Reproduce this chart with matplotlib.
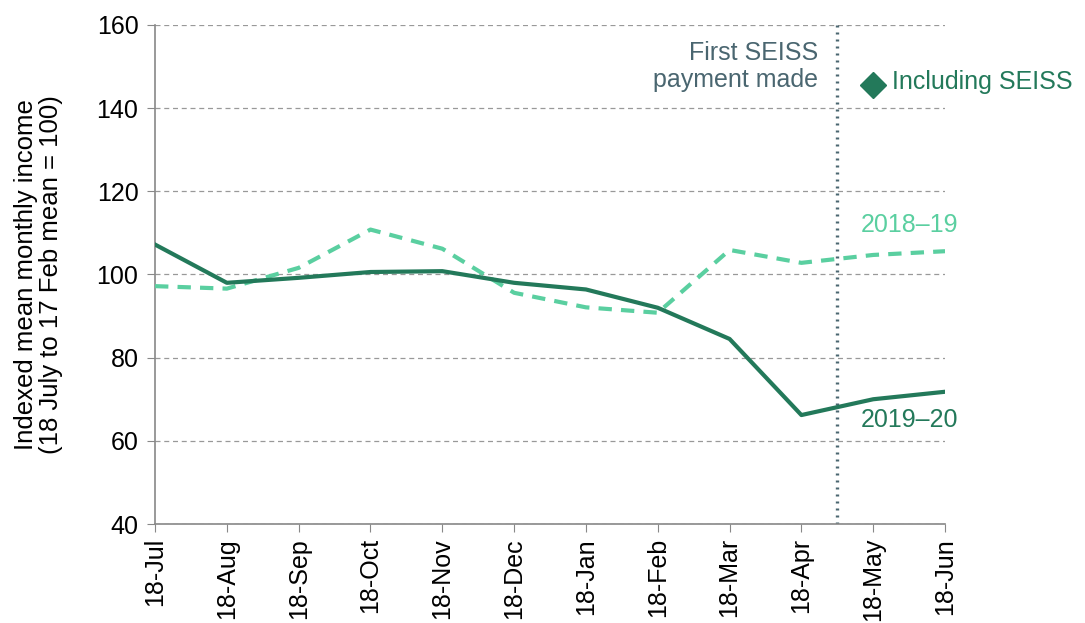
import matplotlib
matplotlib.use("Agg")
import matplotlib.pyplot as plt

plt.rcParams['font.family'] = ['Liberation Sans', 'DejaVu Sans']

months = ["18-Jul", "18-Aug", "18-Sep", "18-Oct", "18-Nov", "18-Dec",
          "18-Jan", "18-Feb", "18-Mar", "18-Apr", "18-May", "18-Jun"]
y2019_20 = [107.2, 98.0, 99.2, 100.6, 100.8, 98.0, 96.4, 92.0, 84.5, 66.2, 70.0, 71.8]
y2018_19 = [97.2, 96.6, 101.6, 110.8, 106.2, 95.6, 92.1, 90.8, 105.9, 102.8, 104.7, 105.6]
seiss_month = 10
seiss_value = 145.6
first_payment_pos = 9.5

dark = "#23795A"
light = "#5ACFA0"
slate = "#4A6670"

fig = plt.figure(figsize=(10.85, 6.23), dpi=100)
ax = fig.add_axes([0.1429, 0.1589, 0.7281, 0.801])

x = list(range(len(months)))
ax.plot(x, y2018_19, color=light, lw=3, ls=(0, (3.2, 2.2)), zorder=3)
ax.plot(x, y2019_20, color=dark, lw=3, zorder=4)
ax.plot([seiss_month], [seiss_value], marker="D", color=dark, ms=13, zorder=5)
ax.axvline(first_payment_pos, color=slate, lw=2.4, ls=(0, (0.6, 1.5)), zorder=2)

ax.set_xlim(0, len(months) - 1)
ax.set_ylim(40, 160)
ax.set_yticks(range(40, 161, 20))
ax.set_xticks(x)
ax.set_xticklabels(months, rotation=90, fontsize=18)
ax.tick_params(axis="y", labelsize=18, length=6, color="#888888", pad=6)
ax.tick_params(axis="x", length=6, color="#888888", pad=4)
ax.yaxis.grid(True, color="#999999", ls=(0, (4, 3)), lw=0.9)
ax.set_axisbelow(True)
for s in ["top", "right"]:
    ax.spines[s].set_visible(False)
for s in ["left", "bottom"]:
    ax.spines[s].set_color("#888888")
    ax.spines[s].set_linewidth(1.2)

ax.set_ylabel("Indexed mean monthly income\n(18 July to 17 Feb mean = 100)",
              fontsize=18.5, linespacing=1.1)
ax.yaxis.set_label_coords(-0.116, 0.5)

ax.text(9.23, 150.0, "First SEISS\npayment made", ha="right", va="center",
        fontsize=18, color=slate, linespacing=1.15)
ax.text(10.26, 146.3, "Including SEISS", ha="left", va="center",
        fontsize=18, color=dark)
ax.text(9.82, 111.8, "2018–19", ha="left", va="center", fontsize=18, color=light)
ax.text(9.82, 65.1, "2019–20", ha="left", va="center", fontsize=18, color=dark)

fig.savefig("out.png", dpi=100)
